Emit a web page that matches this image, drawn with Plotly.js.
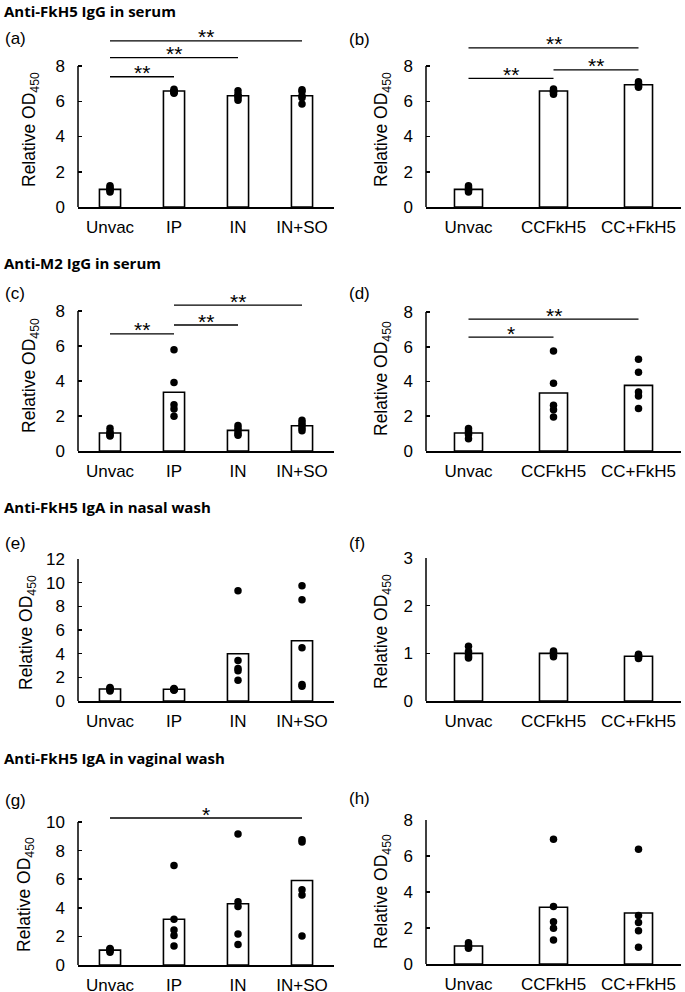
<!DOCTYPE html>
<html>
<head>
<meta charset="utf-8">
<script src="https://cdn.plot.ly/plotly-3.0.1.min.js"></script>
<style>
  html, body { margin: 0; padding: 0; background: #fff; }
  #chart { width: 685px; height: 992px; }
</style>
</head>
<body>
<div id="chart"></div>
<script>
const groupsRoute = ['Unvac', 'IP', 'IN', 'IN+SO'];
const groupsForm = ['Unvac', 'CCFkH5', 'CC+FkH5'];

// (a) anti-FkH5 IgG in serum, by route
const aMeans = [1.0, 6.58, 6.31, 6.31];
const aDots = [[0.85, 0.95, 1.0, 1.1, 1.2], [6.45, 6.5, 6.55, 6.6, 6.68], [6.05, 6.2, 6.3, 6.4, 6.6], [5.85, 6.2, 6.3, 6.55, 6.65]];
const aSig = [[0, 3, 9.43, '**'], [0, 2, 8.47, '**'], [0, 1, 7.39, '**']];
const aTicks = [0, 2, 4, 6, 8];

// (b) anti-FkH5 IgG in serum, by formulation
const bMeans = [1.0, 6.58, 6.94];
const bDots = [[0.85, 0.95, 1.0, 1.1, 1.2], [6.4, 6.5, 6.55, 6.6, 6.7], [6.8, 6.85, 6.95, 7.0, 7.1]];
const bSig = [[0, 2, 9.03, '**'], [1, 2, 7.78, '**'], [0, 1, 7.3, '**']];
const bTicks = [0, 2, 4, 6, 8];

// (c) anti-M2 IgG in serum, by route
const cMeans = [1.03, 3.36, 1.18, 1.44];
const cDots = [[0.85, 0.9, 1.0, 1.1, 1.3], [1.98, 2.4, 2.64, 3.92, 5.78], [0.9, 1.0, 1.15, 1.3, 1.45], [1.15, 1.3, 1.45, 1.6, 1.75]];
const cSig = [[0, 1, 6.69, '**'], [1, 2, 7.2, '**'], [1, 3, 8.34, '**']];
const cTicks = [0, 2, 4, 6, 8];

// (d) anti-M2 IgG in serum, by formulation
const dMeans = [1.04, 3.34, 3.78];
const dDots = [[0.7, 0.95, 1.05, 1.15, 1.3], [1.96, 2.38, 2.63, 3.9, 5.76], [2.44, 3.17, 3.4, 4.53, 5.28]];
const dSig = [[0, 1, 6.55, '*'], [0, 2, 7.59, '**']];
const dTicks = [0, 2, 4, 6, 8];

// (e) anti-FkH5 IgA in nasal wash, by route
const eMeans = [1.02, 0.99, 3.99, 5.09];
const eDots = [[0.85, 0.95, 1.0, 1.05, 1.15], [0.9, 0.95, 1.0, 1.0, 1.05], [1.75, 2.55, 2.75, 3.42, 9.31], [1.25, 1.4, 4.5, 8.55, 9.74]];
const eSig = [];
const eTicks = [0, 2, 4, 6, 8, 10, 12];

// (f) anti-FkH5 IgA in nasal wash, by formulation
const fMeans = [1.0, 1.0, 0.94];
const fDots = [[0.9, 0.93, 0.97, 1.04, 1.15], [0.93, 0.96, 1.0, 1.02, 1.05], [0.89, 0.92, 0.95, 0.96, 0.98]];
const fSig = [];
const fTicks = [0, 1, 2, 3];

// (g) anti-FkH5 IgA in vaginal wash, by route
const gMeans = [1.04, 3.2, 4.28, 5.91];
const gDots = [[0.9, 1.0, 1.05, 1.1, 1.15], [1.33, 2.06, 2.45, 3.2, 6.96], [1.43, 2.17, 4.09, 4.42, 9.16], [2.03, 4.9, 5.26, 8.6, 8.76]];
const gSig = [[0, 3, 10.28, '*']];
const gTicks = [0, 2, 4, 6, 8, 10];

// (h) anti-FkH5 IgA in vaginal wash, by formulation
const hMeans = [1.0, 3.15, 2.83];
const hDots = [[0.87, 0.95, 1.0, 1.05, 1.18], [1.33, 1.98, 2.35, 3.19, 6.93], [0.93, 1.85, 2.3, 2.69, 6.37]];
const hSig = [];
const hTicks = [0, 2, 4, 6, 8];

const sectionTitles = ['Anti-FkH5 IgG in serum', 'Anti-M2 IgG in serum', 'Anti-FkH5 IgA in nasal wash', 'Anti-FkH5 IgA in vaginal wash'];
const yTitle = 'Relative OD<sub>450</sub>';

const W = 685, H = 992;
const BLACK = '#000';
const FONT = 'Liberation Sans, Arial, sans-serif';

// pixel placement of each panel: zero line, top tick, range top, label and title spots
const panels = [
    { tag: '(a)', cats: groupsRoute, means: aMeans, dots: aDots, sig: aSig, ticks: aTicks, col: 0, zeroPx: 207, tickPx: 66, top: 10, labelY: 38, titleX: 30, titleY: 130 },
    { tag: '(b)', cats: groupsForm, means: bMeans, dots: bDots, sig: bSig, ticks: bTicks, col: 1, zeroPx: 207, tickPx: 66, top: 10, labelY: 40, titleX: 382, titleY: 130 },
    { tag: '(c)', cats: groupsRoute, means: cMeans, dots: cDots, sig: cSig, ticks: cTicks, col: 0, zeroPx: 451, tickPx: 311, top: 9, labelY: 293, titleX: 30, titleY: 376 },
    { tag: '(d)', cats: groupsForm, means: dMeans, dots: dDots, sig: dSig, ticks: dTicks, col: 1, zeroPx: 451, tickPx: 312, top: 9, labelY: 293, titleX: 382, titleY: 379 },
    { tag: '(e)', cats: groupsRoute, means: eMeans, dots: eDots, sig: eSig, ticks: eTicks, col: 0, zeroPx: 701, tickPx: 559, top: 12, labelY: 543, titleX: 27, titleY: 633 },
    { tag: '(f)', cats: groupsForm, means: fMeans, dots: fDots, sig: fSig, ticks: fTicks, col: 1, zeroPx: 701, tickPx: 558, top: 3, labelY: 543, titleX: 382, titleY: 632 },
    { tag: '(g)', cats: groupsRoute, means: gMeans, dots: gDots, sig: gSig, ticks: gTicks, col: 0, zeroPx: 965, tickPx: 822, top: 11, labelY: 800, titleX: 25, titleY: 895 },
    { tag: '(h)', cats: groupsForm, means: hMeans, dots: hDots, sig: hSig, ticks: hTicks, col: 1, zeroPx: 964, tickPx: 820, top: 8, labelY: 798, titleX: 382, titleY: 892 }
];
const colX = [[78, 334], [426, 681]];
const labelX = [3, 347];
const sectionY = [11, 263, 507, 758];

const data = [];
const shapes = [];
const annotations = [];
const layout = {
    width: W,
    height: H,
    margin: { l: 0, r: 0, t: 0, b: 0 },
    paper_bgcolor: '#fff',
    plot_bgcolor: 'rgba(0,0,0,0)',
    showlegend: false,
    font: { family: FONT, size: 17, color: BLACK }
};

panels.forEach((p, i) => {
    const n = i + 1;
    const xa = n === 1 ? 'x' : 'x' + n;
    const ya = n === 1 ? 'y' : 'y' + n;
    const tickMax = p.ticks[p.ticks.length - 1];
    const unit = (p.zeroPx - p.tickPx) / tickMax;
    const topPx = p.zeroPx - p.top * unit;

    layout['xaxis' + (n === 1 ? '' : n)] = {
        domain: [colX[p.col][0] / W, colX[p.col][1] / W],
        anchor: ya,
        type: 'category',
        range: [-0.5, p.cats.length - 0.5],
        showline: true, linecolor: BLACK, linewidth: 1.5,
        ticks: '', showgrid: false, zeroline: false,
        ticklabelstandoff: 4,
        tickfont: { size: 17 },
        fixedrange: true
    };
    layout['yaxis' + (n === 1 ? '' : n)] = {
        domain: [1 - p.zeroPx / H, 1 - topPx / H],
        anchor: xa,
        range: [0, p.top],
        tickmode: 'array', tickvals: p.ticks,
        showline: false, showgrid: false, zeroline: false,
        ticks: 'inside', ticklen: 4, tickwidth: 1.5, tickcolor: BLACK,
        ticklabelstandoff: 12,
        tickfont: { size: 17 },
        fixedrange: true
    };

    data.push({
        type: 'bar', x: p.cats, y: p.means, xaxis: xa, yaxis: ya,
        width: 0.33,
        marker: { color: '#fff', line: { color: BLACK, width: 1.6 } },
        hoverinfo: 'skip'
    });

    const dx = [], dy = [];
    p.dots.forEach((vals, k) => vals.forEach((v) => { dx.push(p.cats[k]); dy.push(v); }));
    data.push({
        type: 'scatter', mode: 'markers', x: dx, y: dy, xaxis: xa, yaxis: ya,
        marker: { color: BLACK, size: 7.5 },
        cliponaxis: false
    });

    // y axis line only up to the last tick
    shapes.push({
        type: 'line', xref: xa + ' domain', yref: ya,
        x0: 0, x1: 0, y0: 0, y1: tickMax,
        line: { color: BLACK, width: 1.5 }
    });

    p.sig.forEach(([from, to, level, stars]) => {
        shapes.push({
            type: 'line', xref: xa, yref: ya,
            x0: p.cats[from], x1: p.cats[to], y0: level, y1: level,
            line: { color: BLACK, width: 1.3 }
        });
        annotations.push({
            xref: xa, yref: ya, x: (from + to) / 2, y: level,
            text: stars, showarrow: false, yanchor: 'middle', yshift: 4,
            font: { size: 21, color: BLACK }
        });
    });

    annotations.push({
        xref: 'paper', yref: 'paper',
        x: p.titleX / W, y: 1 - p.titleY / H,
        xanchor: 'center', yanchor: 'middle', textangle: -90,
        text: yTitle, showarrow: false,
        font: { size: 17.5, color: BLACK }
    });

    annotations.push({
        xref: 'paper', yref: 'paper',
        x: labelX[p.col] / W, y: 1 - p.labelY / H,
        xanchor: 'left', yanchor: 'middle',
        text: p.tag, showarrow: false,
        font: { size: 17, color: BLACK }
    });
});

sectionTitles.forEach((t, k) => {
    annotations.push({
        xref: 'paper', yref: 'paper',
        x: 2 / W, y: 1 - sectionY[k] / H,
        xanchor: 'left', yanchor: 'middle',
        text: '<b>' + t + '</b>', showarrow: false,
        font: { family: 'Open Sans, sans-serif', size: 15, color: BLACK }
    });
});

layout.shapes = shapes;
layout.annotations = annotations;

Plotly.newPlot('chart', data, layout, { staticPlot: true });
</script>
</body>
</html>
